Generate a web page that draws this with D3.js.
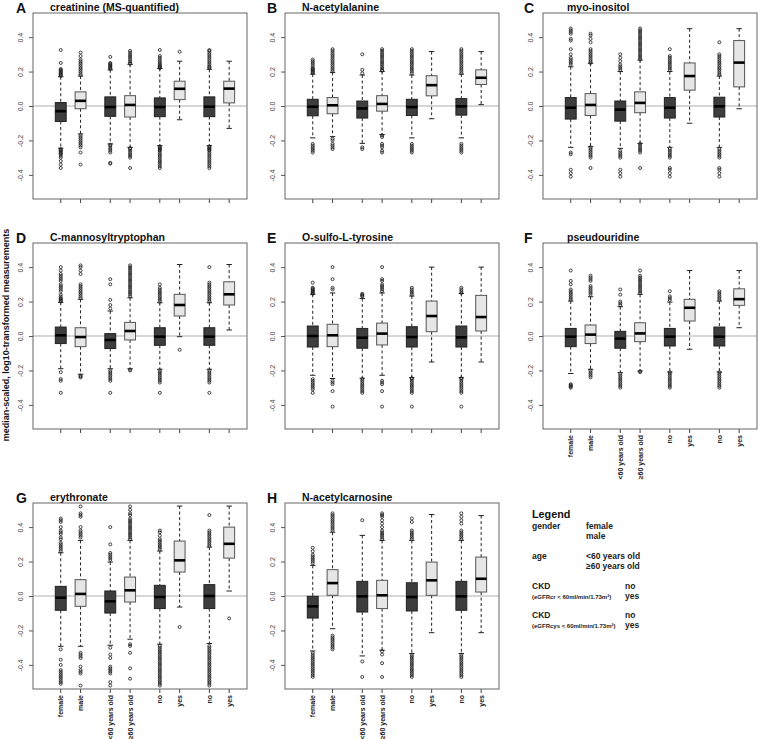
<!DOCTYPE html>
<html><head><meta charset="utf-8">
<script src="https://cdn.jsdelivr.net/npm/d3@7"></script>
<style>body{margin:0;background:#fff;font-family:"Liberation Sans",Arial,sans-serif;}</style>
</head><body>
<script>
// ---------- data ----------
const panelLetters = ["A","B","C","D","E","F","G","H"];
const metabolites = ["creatinine (MS-quantified)","N-acetylalanine","myo-inositol","C-mannosyltryptophan","O-sulfo-L-tyrosine","pseudouridine","erythronate","N-acetylcarnosine"];
const groupLabels = ["female","male","<60 years old","≥60 years old","no","yes","no","yes"];
const groupPair = [0,0,1,1,2,2,3,3];
const groupMember = [0,1,0,1,0,1,0,1];
const yTicks = [-0.4,-0.2,0.0,0.2,0.4];
const yLabel = "median-scaled, log10-transformed measurements";
const labelledPanels = ["F","G","H"];

// box stats per group: [lower whisker, Q1, median, Q3, upper whisker]
const statsA = [[-0.245,-0.09,-0.03,0.02,0.17],[-0.162,-0.016,0.03,0.082,0.174],[-0.22,-0.06,-0.006,0.053,0.21],[-0.24,-0.064,0.006,0.06,0.242],[-0.23,-0.062,-0.006,0.047,0.218],[-0.08,0.037,0.1,0.144,0.26],[-0.23,-0.062,-0.004,0.053,0.213],[-0.13,0.018,0.101,0.144,0.26]];
const statsB = [[-0.185,-0.057,-0.004,0.039,0.185],[-0.178,-0.045,0.004,0.049,0.195],[-0.217,-0.07,-0.014,0.029,0.18],[-0.166,-0.03,0.012,0.06,0.2],[-0.185,-0.055,-0.006,0.039,0.18],[-0.074,0.059,0.121,0.176,0.316],[-0.185,-0.053,-0.002,0.043,0.185],[0.008,0.125,0.164,0.21,0.316]];
const statsC = [[-0.24,-0.076,-0.01,0.049,0.228],[-0.236,-0.055,0.006,0.072,0.248],[-0.246,-0.088,-0.021,0.029,0.2],[-0.217,-0.039,0.018,0.082,0.267],[-0.24,-0.07,-0.01,0.049,0.2],[-0.1,0.092,0.174,0.25,0.449],[-0.24,-0.064,-0.002,0.051,0.174],[-0.016,0.111,0.252,0.38,0.449]];
const statsD = [[-0.19,-0.044,0.004,0.052,0.195],[-0.222,-0.062,-0.006,0.048,0.213],[-0.19,-0.073,-0.023,0.014,0.145],[-0.19,-0.023,0.029,0.079,0.222],[-0.193,-0.054,-0.004,0.048,0.193],[-0.004,0.116,0.18,0.242,0.415],[-0.193,-0.054,-0.004,0.048,0.193],[0.035,0.18,0.242,0.315,0.415]];
const statsE = [[-0.228,-0.064,0.0,0.058,0.242],[-0.247,-0.062,0.004,0.068,0.25],[-0.245,-0.071,-0.01,0.044,0.218],[-0.228,-0.052,0.014,0.075,0.25],[-0.242,-0.064,-0.006,0.054,0.232],[-0.151,0.025,0.116,0.203,0.4],[-0.242,-0.064,-0.008,0.058,0.247],[-0.151,0.029,0.11,0.236,0.4]];
const statsF = [[-0.218,-0.062,-0.004,0.044,0.203],[-0.193,-0.044,0.008,0.064,0.228],[-0.213,-0.071,-0.015,0.027,0.17],[-0.203,-0.033,0.015,0.077,0.242],[-0.209,-0.058,-0.004,0.044,0.197],[-0.077,0.087,0.164,0.213,0.38],[-0.209,-0.058,-0.004,0.052,0.203],[0.048,0.178,0.214,0.274,0.38]];
const statsG = [[-0.292,-0.083,-0.01,0.056,0.251],[-0.292,-0.06,0.012,0.095,0.323],[-0.286,-0.099,-0.031,0.029,0.197],[-0.251,-0.035,0.033,0.11,0.323],[-0.28,-0.073,-0.006,0.062,0.261],[-0.064,0.139,0.207,0.319,0.522],[-0.276,-0.073,0.0,0.066,0.284],[0.029,0.22,0.303,0.4,0.522]];
const statsH = [[-0.319,-0.128,-0.06,-0.002,0.178],[-0.19,0.004,0.075,0.153,0.37],[-0.348,-0.093,-0.002,0.085,0.352],[-0.315,-0.073,0.004,0.091,0.323],[-0.334,-0.087,-0.006,0.077,0.323],[-0.213,0.004,0.091,0.197,0.473],[-0.334,-0.083,-0.002,0.085,0.323],[-0.213,0.023,0.1,0.226,0.467]];

// outliers per group
const outA = [
 [0.175,0.18,0.185,0.19,0.195,0.2,0.205,0.21,0.215,0.25,0.325,-0.25,-0.255,-0.26,-0.265,-0.27,-0.275,-0.28,-0.29,-0.3,-0.32,-0.34,-0.36],
 [0.18,0.19,0.2,0.21,0.22,0.23,0.24,0.25,0.26,0.27,0.29,0.31,-0.17,-0.18,-0.19,-0.2,-0.21,-0.22,-0.23,-0.24,-0.27,-0.34],
 [0.215,0.22,0.225,0.23,0.235,0.24,0.245,0.25,0.285,-0.225,-0.23,-0.24,-0.25,-0.26,-0.27,-0.33,-0.335],
 [0.245,0.25,0.26,0.27,0.28,0.29,0.3,0.31,0.32,-0.245,-0.25,-0.26,-0.27,-0.28,-0.29,-0.3,-0.36],
 [0.22,0.225,0.23,0.235,0.24,0.25,0.26,0.27,0.28,0.29,0.325,-0.235,-0.24,-0.245,-0.25,-0.255,-0.26,-0.27,-0.28,-0.29,-0.3,-0.31,-0.32,-0.33,-0.34,-0.35,-0.36],
 [0.315],
 [0.22,0.225,0.23,0.24,0.25,0.26,0.27,0.28,0.29,0.3,0.31,0.32,0.325,-0.235,-0.24,-0.245,-0.25,-0.255,-0.26,-0.27,-0.28,-0.29,-0.3,-0.31,-0.32,-0.33,-0.34,-0.35,-0.36],
 []];
const outB = [
 [0.19,0.195,0.2,0.205,0.21,0.215,0.22,0.23,0.24,0.25,0.26,0.27,-0.22,-0.23,-0.24,-0.25,-0.26,-0.27],
 [0.2,0.21,0.22,0.23,0.24,0.25,0.26,0.27,0.28,0.29,0.3,0.31,0.32,0.33,-0.19,-0.2,-0.22,-0.23,-0.24,-0.25],
 [0.19,0.21,0.3,-0.24,-0.25],
 [0.205,0.21,0.22,0.23,0.24,0.25,0.26,0.27,0.28,0.29,0.3,0.31,0.32,0.33,-0.17,-0.18,-0.22,-0.23,-0.24,-0.26,-0.27],
 [0.19,0.2,0.21,0.22,0.23,0.24,0.25,0.26,0.27,0.28,0.29,0.3,0.31,0.32,0.33,-0.22,-0.23,-0.24,-0.25,-0.26,-0.27],
 [],
 [0.19,0.2,0.21,0.22,0.23,0.24,0.25,0.26,0.27,0.28,0.29,0.3,0.31,0.32,0.33,-0.22,-0.23,-0.24,-0.25,-0.26,-0.27],
 []];
const outC = [
 [0.24,0.25,0.26,0.27,0.28,0.3,0.33,0.38,0.39,0.42,0.43,0.44,0.45,-0.27,-0.28,-0.37,-0.39,-0.41],
 [0.25,0.26,0.27,0.28,0.29,0.3,0.31,0.32,0.33,0.37,0.39,0.41,0.42,-0.24,-0.25,-0.26,-0.27,-0.28,-0.29,-0.3,-0.36],
 [0.21,0.22,0.23,0.24,0.26,0.28,0.3,-0.26,-0.27,-0.28,-0.29,-0.3,-0.37,-0.39,-0.41],
 [0.27,0.28,0.29,0.3,0.31,0.32,0.33,0.34,0.35,0.36,0.37,0.38,0.39,0.4,0.41,0.42,0.43,0.44,0.45,-0.22,-0.23,-0.24,-0.25,-0.26,-0.27,-0.36],
 [0.21,0.22,0.23,0.24,0.25,0.26,0.27,0.28,0.29,0.33,-0.25,-0.26,-0.27,-0.28,-0.29,-0.3,-0.36,-0.37,-0.39,-0.41],
 [],
 [0.18,0.19,0.2,0.21,0.22,0.23,0.24,0.25,0.26,0.27,0.28,0.29,0.3,0.37,-0.25,-0.26,-0.27,-0.28,-0.29,-0.3,-0.36,-0.37,-0.39,-0.41],
 []];
const outD = [
 [0.2,0.205,0.21,0.215,0.22,0.23,0.24,0.26,0.27,0.28,0.29,0.3,0.32,0.33,0.34,0.35,0.36,0.38,0.4,-0.21,-0.25,-0.26,-0.33],
 [0.22,0.23,0.24,0.25,0.26,0.27,0.28,0.29,0.3,0.36,0.38,0.4,0.41,-0.23,-0.235,-0.24],
 [0.16,0.18,0.21,0.3,0.33,-0.2,-0.21,-0.22,-0.23,-0.24,-0.25,-0.26,-0.33],
 [0.23,0.24,0.25,0.26,0.27,0.28,0.29,0.3,0.31,0.32,0.33,0.34,0.35,0.36,0.37,0.38,0.39,0.4,0.41,-0.195,-0.2],
 [0.2,0.21,0.22,0.23,0.24,0.25,0.26,0.27,0.28,0.3,-0.2,-0.21,-0.22,-0.23,-0.24,-0.25,-0.26,-0.27,-0.33],
 [-0.08],
 [0.2,0.21,0.22,0.23,0.24,0.25,0.26,0.27,0.28,0.29,0.3,0.31,0.4,-0.2,-0.21,-0.22,-0.23,-0.24,-0.25,-0.26,-0.27,-0.33],
 []];
const outE = [
 [0.245,0.25,0.255,0.26,0.265,0.27,0.275,0.28,0.31,-0.25,-0.26,-0.27,-0.28,-0.29,-0.3,-0.31,-0.33],
 [0.27,0.28,0.33,0.4,-0.26,-0.27,-0.28,-0.32,-0.41],
 [0.23,0.235,0.24,0.245,-0.25,-0.26,-0.27,-0.28,-0.29,-0.3,-0.31,-0.32,-0.33],
 [0.26,0.27,0.28,0.29,0.3,0.32,0.33,0.4,-0.26,-0.27,-0.28,-0.32,-0.41],
 [0.24,0.25,0.26,0.27,0.28,-0.245,-0.25,-0.26,-0.27,-0.28,-0.29,-0.3,-0.31,-0.32,-0.33,-0.41],
 [],
 [0.25,0.26,0.27,0.28,-0.245,-0.25,-0.26,-0.27,-0.28,-0.29,-0.3,-0.31,-0.32,-0.33,-0.41],
 []];
const outF = [
 [0.21,0.22,0.23,0.24,0.25,0.26,0.27,0.3,0.32,0.38,-0.28,-0.285,-0.29,-0.295,-0.3],
 [0.24,0.25,0.26,0.27,0.28,0.29,0.32,0.33,0.34,0.35,-0.2,-0.21,-0.22,-0.23,-0.24],
 [0.18,0.19,0.2,0.24,0.27,-0.22,-0.23,-0.24,-0.25,-0.26,-0.27,-0.28,-0.29,-0.3],
 [0.25,0.26,0.27,0.28,0.29,0.3,0.31,0.32,0.33,0.34,0.35,0.38,-0.205,-0.21],
 [0.21,0.22,0.23,0.26,-0.21,-0.22,-0.23,-0.24,-0.25,-0.26,-0.27,-0.28,-0.29,-0.3],
 [],
 [0.21,0.22,0.23,0.24,0.25,0.26,-0.21,-0.22,-0.23,-0.24,-0.25,-0.26,-0.27,-0.28,-0.29,-0.3],
 []];
const outG = [
 [0.26,0.27,0.28,0.29,0.3,0.31,0.33,0.34,0.36,0.37,0.38,0.4,0.43,0.44,0.45,-0.31,-0.37,-0.4,-0.43,-0.44,-0.45,-0.46,-0.47,-0.48,-0.49,-0.5,-0.51],
 [0.34,0.35,0.36,0.37,0.38,0.4,0.46,0.47,0.48,0.52,-0.33,-0.34,-0.35,-0.36,-0.41,-0.43,-0.44,-0.45,-0.52],
 [0.21,0.22,0.23,0.24,0.25,0.3,0.4,-0.3,-0.34,-0.36,-0.41,-0.42,-0.43,-0.44,-0.45,-0.5,-0.52],
 [0.33,0.34,0.35,0.36,0.37,0.38,0.39,0.4,0.41,0.42,0.43,0.44,0.45,0.47,0.48,0.5,0.52,-0.28,-0.29,-0.33,-0.42,-0.48],
 [0.27,0.28,0.29,0.3,0.31,0.32,0.33,0.35,0.37,0.38,-0.29,-0.3,-0.31,-0.32,-0.33,-0.34,-0.35,-0.36,-0.37,-0.38,-0.39,-0.4,-0.41,-0.42,-0.43,-0.44,-0.45,-0.46,-0.47,-0.48,-0.49,-0.5,-0.51,-0.52],
 [-0.18],
 [0.29,0.3,0.31,0.32,0.33,0.34,0.35,0.36,0.37,0.38,0.47,-0.29,-0.3,-0.31,-0.32,-0.33,-0.34,-0.35,-0.36,-0.37,-0.38,-0.39,-0.4,-0.41,-0.42,-0.43,-0.44,-0.45,-0.46,-0.47,-0.48,-0.49,-0.5,-0.51,-0.52],
 [-0.13]];
const outH = [
 [0.19,0.2,0.21,0.22,0.23,0.24,0.26,0.28,-0.33,-0.34,-0.35,-0.36,-0.37,-0.38,-0.39,-0.4,-0.41,-0.42,-0.43,-0.44,-0.45,-0.46,-0.47],
 [0.38,0.39,0.4,0.41,0.42,0.43,0.44,0.45,0.46,0.47,0.48,-0.23,-0.24,-0.25,-0.26,-0.27,-0.28,-0.29,-0.3,-0.31],
 [0.44,-0.38,-0.47],
 [0.33,0.34,0.35,0.36,0.37,0.38,0.4,0.42,0.44,0.46,0.47,0.48,-0.32,-0.34,-0.39,-0.47],
 [0.33,0.34,0.35,0.36,0.37,0.38,0.43,0.45,-0.34,-0.35,-0.36,-0.37,-0.38,-0.39,-0.4,-0.41,-0.42,-0.43,-0.44,-0.45,-0.46,-0.47],
 [],
 [0.33,0.34,0.35,0.36,0.37,0.38,0.42,0.44,0.46,0.48,-0.34,-0.35,-0.36,-0.37,-0.38,-0.39,-0.4,-0.41,-0.42,-0.43,-0.44,-0.45,-0.46,-0.47],
 []];

const legendTitle = "Legend";
const legendVars = ["gender","age","CKD","CKD"];
const legendNotes = ["","","(eGFRcr < 60ml/min/1.73m²)","(eGFRcys < 60ml/min/1.73m²)"];
const legendLevels = [["female","male"],["<60 years old","≥60 years old"],["no","yes"],["no","yes"]];

const allStats = [statsA,statsB,statsC,statsD,statsE,statsF,statsG,statsH];
const allOut = [outA,outB,outC,outD,outE,outF,outG,outH];

// ---------- layout ----------
const W = 758, H = 739;
const colLeft = [33,285,543], rowTop = [13,243,503];
const letterX = [16,267,524], titleX = [50,302,567];
const pw = 214, ph = 186;
const darkFill = "#3d3d3d", lightFill = "#e6e6e6";

const svg = d3.select("body").append("svg").attr("width",W).attr("height",H)
  .style("font-family",'"Liberation Sans",Arial,sans-serif');

const atPos = groupPair.map((p,i)=>1 + p*2.5 + groupMember[i]);

panelLetters.forEach((letter, pi) => {
  const r = Math.floor(pi/3), c = pi%3;
  const g = svg.append("g").attr("transform",`translate(${colLeft[c]},${rowTop[r]})`);
  const x = d3.scaleLinear().domain([-0.4,10.4]).range([0,pw]);
  const y = d3.scaleLinear().domain([-0.54,0.54]).range([ph,0]);
  const bw = x(0.55)-x(0), cw = bw/4;

  // titles
  svg.append("text").attr("x",letterX[c]).attr("y",rowTop[r]-0.5).text(letter)
    .attr("font-size",14).attr("font-weight","bold").attr("fill","#111");
  svg.append("text").attr("x",titleX[c]).attr("y",rowTop[r]-2).text(metabolites[pi])
    .attr("font-size",10.5).attr("font-weight","bold").attr("fill","#111");

  // zero line
  g.append("line").attr("x1",0).attr("x2",pw).attr("y1",y(0)).attr("y2",y(0))
    .attr("stroke","#c8c8c8").attr("stroke-width",1.6);

  const stats = allStats[pi], outs = allOut[pi];
  stats.forEach((s,gi) => {
    const cx = x(atPos[gi]);
    const dark = groupMember[gi]===0;
    const [lo,q1,med,q3,hi] = s;
    // whiskers
    g.append("line").attr("x1",cx).attr("x2",cx).attr("y1",y(hi)).attr("y2",y(q3))
      .attr("stroke","#222").attr("stroke-dasharray","3,2.5").attr("stroke-width",1);
    g.append("line").attr("x1",cx).attr("x2",cx).attr("y1",y(q1)).attr("y2",y(lo))
      .attr("stroke","#222").attr("stroke-dasharray","3,2.5").attr("stroke-width",1);
    [hi,lo].forEach(v => g.append("line").attr("x1",cx-cw).attr("x2",cx+cw).attr("y1",y(v)).attr("y2",y(v))
      .attr("stroke","#222").attr("stroke-width",1));
    // outliers
    g.selectAll(null).data(outs[gi]).enter().append("circle")
      .attr("cx",cx).attr("cy",d=>y(d)).attr("r",1.5)
      .attr("fill","none").attr("stroke","#222").attr("stroke-width",0.85);
    // box
    g.append("rect").attr("x",cx-bw/2).attr("width",bw).attr("y",y(q3)).attr("height",y(q1)-y(q3))
      .attr("fill",dark?darkFill:lightFill).attr("stroke",dark?"#222":"#555").attr("stroke-width",1);
    g.append("line").attr("x1",cx-bw/2).attr("x2",cx+bw/2).attr("y1",y(med)).attr("y2",y(med))
      .attr("stroke","#000").attr("stroke-width",2.6);
    // x tick
    g.append("line").attr("x1",cx).attr("x2",cx).attr("y1",ph).attr("y2",ph+4)
      .attr("stroke","#444").attr("stroke-width",1);
    if (labelledPanels.includes(letter)) {
      g.append("text").attr("transform",`translate(${cx+2.5},${ph+6}) rotate(-90)`)
        .attr("text-anchor","end").attr("font-size",7).attr("font-weight","bold")
        .attr("fill","#222").text(groupLabels[gi]);
    }
  });

  // frame
  g.append("rect").attr("x",0).attr("y",0).attr("width",pw).attr("height",ph)
    .attr("fill","none").attr("stroke","#666").attr("stroke-width",1);

  // y axis
  const ax = g.append("g").call(d3.axisLeft(y).tickValues(yTicks).tickSize(4).tickFormat(d=>d.toFixed(1)));
  ax.select(".domain").remove();
  ax.selectAll(".tick line").attr("stroke","#555");
  ax.selectAll(".tick text").attr("x",null).attr("dy",null).attr("text-anchor","middle")
    .attr("transform","translate(-10,0) rotate(-90)").attr("font-size",7)
    .attr("fill","#444").attr("font-family",'"Liberation Sans",Arial,sans-serif');
});

// y label
svg.append("text").attr("transform",`translate(9,335) rotate(-90)`).attr("text-anchor","middle")
  .attr("font-size",9).attr("font-weight","bold").attr("fill","#111").text(yLabel);

// legend
const lg = svg.append("g");
lg.append("text").attr("x",532).attr("y",518).text(legendTitle).attr("font-size",10.8).attr("font-weight","bold").attr("fill","#111");
const varY = [529,559,589,618];
legendVars.forEach((v,i) => {
  lg.append("text").attr("x",532).attr("y",varY[i]).text(v).attr("font-size",8.5).attr("font-weight","bold").attr("fill","#222");
  if (legendNotes[i]) lg.append("text").attr("x",532).attr("y",varY[i]+10).text(legendNotes[i]).attr("font-size",6).attr("font-weight","bold").attr("fill","#222");
  const lx = legendNotes[i] ? 625 : 586;
  legendLevels[i].forEach((lv,j) => lg.append("text").attr("x",lx).attr("y",varY[i]+j*10).text(lv)
    .attr("font-size",8.5).attr("font-weight","bold").attr("fill","#222"));
});
</script>
</body></html>
